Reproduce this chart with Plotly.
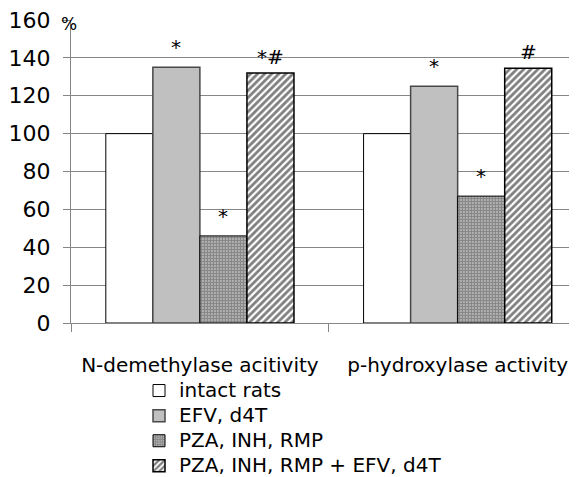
import plotly.graph_objects as go

categories = ["N-demethylase acitivity", "p-hydroxylase activity"]
series_names = ["intact rats", "EFV, d4T", "PZA, INH, RMP", "PZA, INH, RMP + EFV, d4T"]
intact = [100, 100]
efv = [135, 125]
pza = [46, 67]
pza_efv = [132, 134.5]
marks_intact = ["", ""]
marks_efv = ["*", "*"]
marks_pza = ["*", "*"]
marks_pza_efv = ["*#", "#"]
y_ticks = [0, 20, 40, 60, 80, 100, 120, 140, 160]

FONT = "DejaVu Sans"
values = [intact, efv, pza, pza_efv]
marks = [marks_intact, marks_efv, marks_pza, marks_pza_efv]
styles = [
    dict(color="white", line=dict(color="black", width=1)),
    dict(color="#c0c0c0", line=dict(color="#484848", width=1.5)),
    dict(color="white", line=dict(color="black", width=1),
         pattern=dict(shape=".", fgcolor="#111111", bgcolor="white", size=3, solidity=0.8)),
    dict(color="white", line=dict(color="black", width=1.5),
         pattern=dict(shape="/", fgcolor="black", bgcolor="white", size=5, solidity=0.55)),
]

fig = go.Figure()
for name, vals, st in zip(series_names, values, styles):
    fig.add_trace(go.Bar(x=categories, y=vals,
                         name='<span style="font-size:20px">' + name + '</span>',
                         marker=st))

bargap = 0.27
n = len(series_names)
w = (1 - bargap) / n
for i, (vals, mk) in enumerate(zip(values, marks)):
    off = -(1 - bargap) / 2 + w * (i + 0.5)
    for j, (v, t) in enumerate(zip(vals, mk)):
        if t:
            fig.add_annotation(x=j + off, y=v, xref="x", yref="y", text=t,
                               showarrow=False, yanchor="bottom",
                               yshift=6 if t == "*" else 2,
                               font=dict(family=FONT, size=20, color="black"))

fig.add_annotation(x=0, y=160, xref="paper", yref="y", text="%", showarrow=False,
                   xanchor="center", yanchor="middle", xshift=-2, yshift=-4,
                   font=dict(family=FONT, size=17, color="black"))

# page body has an 8px margin: figure is sized so that it fills the 577x477 window
fig.update_layout(
    width=569, height=469,
    margin=dict(l=63, r=0, t=12, b=154, autoexpand=False),
    paper_bgcolor="white", plot_bgcolor="white",
    barmode="group", bargap=bargap, bargroupgap=0,
    font=dict(family=FONT, size=20, color="black"),
    legend=dict(x=(139 - 71) / 506, y=-0.165, xanchor="left", yanchor="top",
                font=dict(family=FONT, size=17, color="black"),
                bgcolor="rgba(0,0,0,0)", tracegroupgap=0),
    xaxis=dict(range=[-0.5, 1.463], showline=True, linecolor="#868686",
               tickson="boundaries", ticks="outside", ticklen=8, tickcolor="#868686",
               ticklabelstandoff=24, showgrid=False, automargin=False,
               ticklabeloverflow="allow",
               tickfont=dict(family=FONT, size=20, color="black")),
    yaxis=dict(range=[0, 160], tickvals=y_ticks, showline=True, linecolor="#868686",
               ticks="outside", ticklen=7, tickcolor="#868686",
               showgrid=True, gridcolor="#868686", gridwidth=1, zeroline=False,
               ticklabelstandoff=8, automargin=False, ticklabeloverflow="allow",
               tickfont=dict(family=FONT, size=22, color="black")),
)
fig.write_html("out.html")
